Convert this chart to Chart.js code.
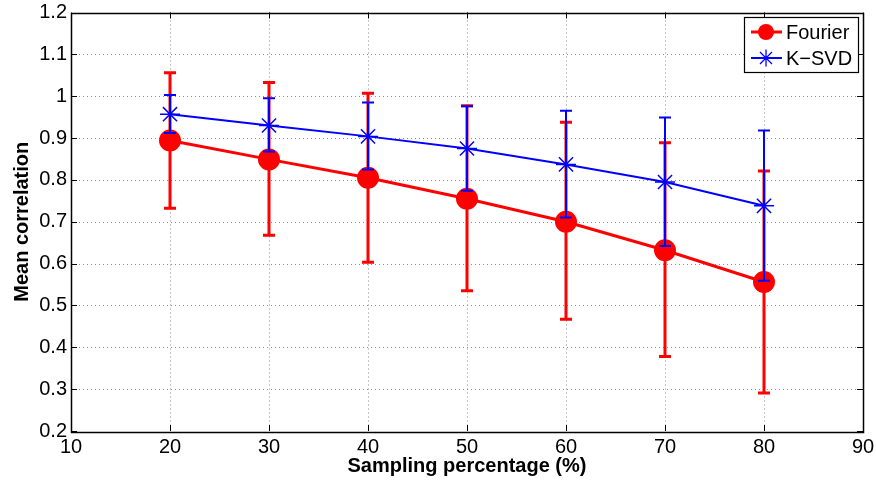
<!DOCTYPE html>
<html>
<head>
<meta charset="utf-8">
<script src="https://cdn.jsdelivr.net/npm/chart.js@4"></script>
<style>
    body { margin: 0; background: #fff; }
    #wrap { width: 876px; height: 481px; }
</style>
</head>
<body>
<div id="wrap"><canvas id="chart1"></canvas></div>
<script>
// sampling percentages
let pct = [20, 30, 40, 50, 60, 70, 80];

// Fourier
let fourierMean = [0.894, 0.849, 0.805, 0.755, 0.700, 0.632, 0.556];
let fourierHigh = [1.056, 1.033, 1.007, 0.977, 0.938, 0.889, 0.821];
let fourierLow = [0.732, 0.668, 0.603, 0.535, 0.467, 0.378, 0.291];

// K-SVD
let ksvdMean = [0.957, 0.930, 0.904, 0.875, 0.837, 0.795, 0.738];
let ksvdHigh = [1.003, 0.995, 0.985, 0.976, 0.965, 0.949, 0.918];
let ksvdLow = [0.912, 0.868, 0.825, 0.774, 0.710, 0.642, 0.559];

let labels = ['Fourier', 'K\u2212SVD'];

const FONT = '"Liberation Sans", Arial, Helvetica, sans-serif';

// error bars drawn under each dataset
const errorBars = {
    id: 'errorBars',
    beforeDatasetDraw(chart, args) {
        const ds = chart.data.datasets[args.index];
        const ctx = chart.ctx;
        const x = chart.scales.x, y = chart.scales.y;
        ctx.save();
        ctx.strokeStyle = ds.borderColor;
        ctx.lineWidth = ds.errWidth;
        ctx.beginPath();
        for (let i = 0; i < pct.length; i++) {
            const px = x.getPixelForValue(pct[i]);
            const hi = y.getPixelForValue(ds.errHigh[i]);
            const lo = y.getPixelForValue(ds.errLow[i]);
            ctx.moveTo(px, hi); ctx.lineTo(px, lo);
            ctx.moveTo(px - 6, hi); ctx.lineTo(px + 6, hi);
            ctx.moveTo(px - 6, lo); ctx.lineTo(px + 6, lo);
        }
        ctx.stroke();
        ctx.restore();
    }
};

// matlab style box, dotted grid, inner ticks, legend
const matlabBox = {
    id: 'matlabBox',
    beforeDatasetsDraw(chart) {
        const ctx = chart.ctx;
        const a = chart.chartArea;
        const x = chart.scales.x, y = chart.scales.y;
        ctx.save();
        ctx.strokeStyle = '#8c8c8c';
        ctx.lineWidth = 1;
        ctx.setLineDash([1, 3]);
        ctx.beginPath();
        x.ticks.forEach(t => {
            if (t.value <= x.min || t.value >= x.max) return;
            const px = Math.round(x.getPixelForValue(t.value)) + 0.5;
            ctx.moveTo(px, a.top); ctx.lineTo(px, a.bottom);
        });
        y.ticks.forEach(t => {
            if (t.value <= y.min + 1e-9 || t.value >= y.max - 1e-9) return;
            const py = Math.round(y.getPixelForValue(t.value)) + 0.5;
            ctx.moveTo(a.left, py); ctx.lineTo(a.right, py);
        });
        ctx.stroke();
        ctx.restore();
    },
    afterDatasetsDraw(chart) {
        const ctx = chart.ctx;
        const a = chart.chartArea;
        const x = chart.scales.x, y = chart.scales.y;
        ctx.save();
        ctx.strokeStyle = '#000';
        ctx.lineWidth = 1;
        ctx.beginPath();
        x.ticks.forEach(t => {
            const px = Math.round(x.getPixelForValue(t.value)) + 0.5;
            ctx.moveTo(px, a.bottom); ctx.lineTo(px, a.bottom - 6);
            ctx.moveTo(px, a.top); ctx.lineTo(px, a.top + 6);
        });
        y.ticks.forEach(t => {
            const py = Math.round(y.getPixelForValue(t.value)) + 0.5;
            ctx.moveTo(a.left, py); ctx.lineTo(a.left + 6, py);
            ctx.moveTo(a.right, py); ctx.lineTo(a.right - 6, py);
        });
        ctx.stroke();
        ctx.lineWidth = 1.5;
        ctx.strokeRect(Math.round(a.left) + 0.5, Math.round(a.top) + 0.5,
            Math.round(a.right - a.left), Math.round(a.bottom - a.top));

        // legend
        const bx = 744, by = 17, bw = 114, bh = 55;
        ctx.fillStyle = '#fff';
        ctx.fillRect(bx, by, bw, bh);
        ctx.lineWidth = 1.2;
        ctx.strokeRect(bx + 0.5, by + 0.5, bw, bh);
        chart.data.datasets.forEach((ds, i) => {
            const ly = by + 15 + i * 26;
            ctx.strokeStyle = ds.borderColor;
            ctx.lineWidth = ds.borderWidth;
            ctx.beginPath();
            ctx.moveTo(bx + 7, ly); ctx.lineTo(bx + 38, ly);
            ctx.stroke();
            const mx = bx + 22;
            if (ds.pointStyle === 'circle') {
                ctx.fillStyle = ds.borderColor;
                ctx.beginPath();
                ctx.arc(mx, ly, 8, 0, Math.PI * 2);
                ctx.fill();
            } else {
                const r = 8.5, d = r * Math.SQRT1_2;
                ctx.lineWidth = 1.3;
                ctx.beginPath();
                ctx.moveTo(mx - r, ly); ctx.lineTo(mx + r, ly);
                ctx.moveTo(mx, ly - r); ctx.lineTo(mx, ly + r);
                ctx.moveTo(mx - d, ly - d); ctx.lineTo(mx + d, ly + d);
                ctx.moveTo(mx - d, ly + d); ctx.lineTo(mx + d, ly - d);
                ctx.stroke();
            }
            ctx.fillStyle = '#000';
            ctx.font = '20px ' + FONT;
            ctx.textBaseline = 'middle';
            ctx.fillText(ds.label, bx + 42, ly + 1);
        });
        ctx.restore();
    }
};

const chart1 = document.getElementById('chart1').getContext('2d');

new Chart(chart1, {
    type: 'line',
    data: {
        datasets: [
            {
                label: labels[0],
                data: pct.map((p, i) => ({x: p, y: fourierMean[i]})),
                errHigh: fourierHigh,
                errLow: fourierLow,
                errWidth: 3,
                borderColor: '#ff0000',
                backgroundColor: '#ff0000',
                borderWidth: 3,
                pointStyle: 'circle',
                pointRadius: 9.5,
                pointHoverRadius: 9.5,
                tension: 0,
                order: 2
            },
            {
                label: labels[1],
                data: pct.map((p, i) => ({x: p, y: ksvdMean[i]})),
                errHigh: ksvdHigh,
                errLow: ksvdLow,
                errWidth: 2,
                borderColor: '#0000ff',
                backgroundColor: '#0000ff',
                borderWidth: 2,
                pointStyle: 'star',
                pointRadius: 10,
                pointHoverRadius: 10,
                pointBorderWidth: 1.5,
                tension: 0,
                order: 1
            }
        ]
    },
    options: {
        responsive: true,
        maintainAspectRatio: false,
        animation: false,
        layout: {
            padding: { top: 12, right: 13, left: 0, bottom: 0 }
        },
        scales: {
            x: {
                type: 'linear',
                min: 10,
                max: 90,
                afterFit: s => { s.height = 50; s.paddingLeft = 0; s.paddingRight = 0; },
                grid: { display: false, drawTicks: false },
                border: { display: false },
                ticks: {
                    stepSize: 10,
                    padding: 4,
                    color: '#000',
                    font: { family: FONT, size: 20 },
                    maxRotation: 0
                },
                title: {
                    display: true,
                    text: 'Sampling percentage (%)',
                    color: '#000',
                    font: { family: FONT, size: 20, weight: 'bold' },
                    padding: { top: 0, bottom: 3 }
                }
            },
            y: {
                min: 0.2,
                max: 1.2,
                afterFit: s => { s.width = 71; s.paddingTop = 0; s.paddingBottom = 0; },
                grid: { display: false, drawTicks: false },
                border: { display: false },
                ticks: {
                    stepSize: 0.1,
                    padding: 4,
                    color: '#000',
                    font: { family: FONT, size: 20 },
                    callback: v => String(+v.toFixed(1))
                },
                title: {
                    display: true,
                    text: 'Mean correlation',
                    color: '#000',
                    font: { family: FONT, size: 20, weight: 'bold' },
                    padding: { top: 10, bottom: 0 }
                }
            }
        },
        plugins: {
            legend: { display: false },
            tooltip: { enabled: false }
        }
    },
    plugins: [errorBars, matlabBox]
});
</script>
</body>
</html>
